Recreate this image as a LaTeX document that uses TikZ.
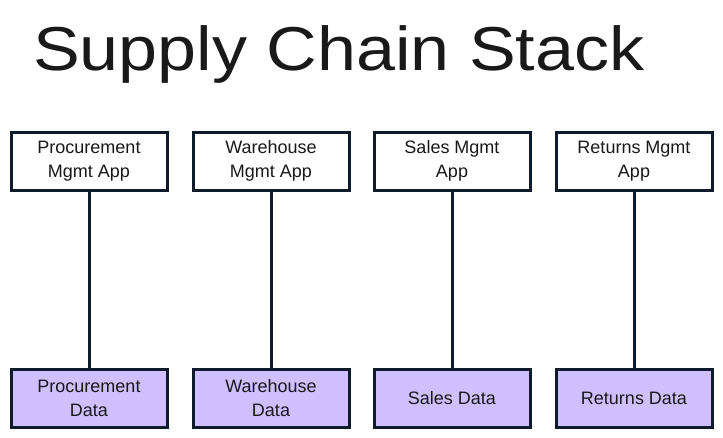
\documentclass[tikz,border=0pt]{standalone}
\usepackage{fontspec}
\setmainfont{Liberation Sans}
\definecolor{ink}{HTML}{0F1A2A}
\definecolor{violet}{HTML}{D0BFFF}
\tikzset{
  box/.style={draw=ink, line width=3pt, minimum width=156pt, minimum height=58pt,
    align=center, font=\fontsize{18}{24}\selectfont, text=black!90, inner sep=2pt},
  appbox/.style={box, fill=white},
  databox/.style={box, fill=violet},
  link/.style={draw=ink, line width=3pt},
}
\begin{document}
\begin{tikzpicture}[x=1pt,y=-1pt]
\useasboundingbox (0,0) rectangle (723,437);
\node[anchor=base west, font=\fontsize{62}{66}\selectfont, text=black!90, inner sep=0] (title) at (33,70) {\scalebox{1.13}[1]{Supply Chain Stack}};
\node[appbox] (a1) at (89,161) {Procurement\\Mgmt App};
\node[appbox] (a2) at (271,161) {Warehouse\\Mgmt App};
\node[appbox] (a3) at (452,161) {Sales Mgmt\\App};
\node[appbox] (a4) at (634,161) {Returns Mgmt\\App};
\node[databox] (d1) at (89,398) {Procurement\\Data};
\node[databox] (d2) at (271,398) {Warehouse\\Data};
\node[databox] (d3) at (452,398) {Sales Data};
\node[databox] (d4) at (634,398) {Returns Data};
\foreach \i in {1,2,3,4} {
  \draw[link] (a\i.south) -- (d\i.north);
}
\end{tikzpicture}
\end{document}
